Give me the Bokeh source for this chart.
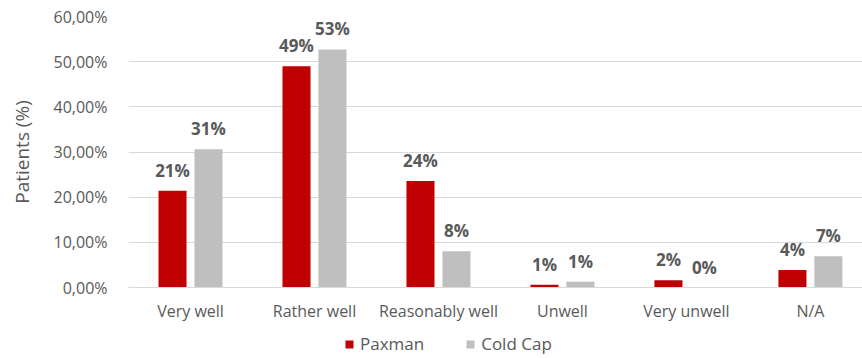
from bokeh.plotting import figure
from bokeh.layouts import column
from bokeh.models import (ColumnDataSource, FixedTicker, LabelSet, Legend, LegendItem)
from bokeh.core.properties import value
from bokeh.transform import dodge
from bokeh.embed import file_html
from bokeh.resources import INLINE

# Wellbeing rating per cap system, percent of patients
categories = ["Very well", "Rather well", "Reasonably well", "Unwell", "Very unwell", "N/A"]
paxman = [21.4, 49.0, 23.6, 0.6, 1.6, 3.9]
cold_cap = [30.6, 52.7, 8.0, 1.3, 0.0, 6.9]
series_names = ["Paxman", "Cold Cap"]
y_ticks = [0, 10, 20, 30, 40, 50, 60]
y_tick_labels = ["0,00%", "10,00%", "20,00%", "30,00%", "40,00%", "50,00%", "60,00%"]

RED = "#C00000"
GREY = "#BFBFBF"
TEXT = "#595959"
GRID = "#D9D9D9"
FONT = "Open Sans"

idx = list(range(len(categories)))
src = ColumnDataSource(dict(
    x=idx,
    paxman=paxman,
    cold=cold_cap,
    paxman_lbl=[f"{v:.0f}%" for v in paxman],
    cold_lbl=[f"{v:.0f}%" for v in cold_cap],
))

# main bar chart
p = figure(width=862, height=330, output_backend="svg", toolbar_location=None,
           x_range=(-0.5, 5.42), y_range=(0, 60),
           min_border_left=128, min_border_right=0, min_border_top=16,
           min_border_bottom=43)
p.outline_line_color = None
p.background_fill_color = "white"
p.border_fill_color = "white"

off = 0.145
w = 0.226
p.vbar(x=dodge("x", -off, range=p.x_range), top="paxman", width=w, source=src,
       fill_color=RED, line_color=None)
p.vbar(x=dodge("x", off, range=p.x_range), top="cold", width=w, source=src,
       fill_color=GREY, line_color=None)

for col, lbl, o in (("paxman", "paxman_lbl", -off), ("cold", "cold_lbl", off)):
    p.add_layout(LabelSet(x=dodge("x", o, range=p.x_range), y=col, text=lbl, source=src,
                          y_offset=14, text_align="center", text_baseline="alphabetic",
                          text_font=value(FONT), text_font_size="17px",
                          text_font_style="bold", text_color=TEXT))

# y axis
p.yaxis.ticker = FixedTicker(ticks=y_ticks)
p.yaxis.major_label_overrides = dict(zip(y_ticks, y_tick_labels))
p.yaxis.axis_line_color = None
p.yaxis.major_tick_line_color = None
p.yaxis.minor_tick_line_color = None
p.yaxis.major_label_standoff = 15
p.yaxis.major_label_text_font = FONT
p.yaxis.major_label_text_font_size = "16px"
p.yaxis.major_label_text_color = TEXT
p.yaxis.axis_label = "Patients (%)"
p.yaxis.axis_label_text_font = FONT
p.yaxis.axis_label_text_font_size = "19px"
p.yaxis.axis_label_text_font_style = "normal"
p.yaxis.axis_label_text_color = TEXT
p.yaxis.axis_label_standoff = 16

# x axis
p.xaxis.ticker = FixedTicker(ticks=idx)
p.xaxis.major_label_overrides = {i: c for i, c in zip(idx, categories)}
p.xaxis.axis_line_color = GRID
p.xaxis.major_tick_line_color = None
p.xaxis.minor_tick_line_color = None
p.xaxis.major_label_standoff = 6
p.xaxis.major_label_text_font = FONT
p.xaxis.major_label_text_font_size = "16px"
p.xaxis.major_label_text_color = TEXT

p.xgrid.grid_line_color = None
p.ygrid.ticker = FixedTicker(ticks=y_ticks)
p.ygrid.grid_line_color = GRID
p.ygrid.grid_line_width = 1

# legend strip underneath the chart; its bars are kept outside the visible range
lg = figure(width=862, height=28, output_backend="svg", toolbar_location=None,
            x_axis_type=None, y_axis_type=None, x_range=(100, 101), y_range=(100, 101),
            min_border_left=0, min_border_right=0, min_border_top=0, min_border_bottom=0)
lg.outline_line_color = None
lg.border_fill_color = "white"
lg.background_fill_color = "white"
k1 = lg.vbar(x="x", top="paxman", width=w, source=src, fill_color=RED, line_color=None)
k2 = lg.vbar(x="x", top="cold", width=w, source=src, fill_color=GREY, line_color=None)
legend = Legend(items=[LegendItem(label=series_names[0], renderers=[k1]),
                       LegendItem(label=series_names[1], renderers=[k2])],
                orientation="horizontal", location=(216, 3),
                glyph_width=10, glyph_height=10, label_text_font=FONT,
                label_text_font_size="17px", label_text_color=TEXT,
                spacing=41, padding=2, margin=0, border_line_color=None,
                background_fill_alpha=0, label_standoff=6)
lg.add_layout(legend)

layout = column(p, lg, spacing=0)
open("out.html", "w").write(file_html(layout, INLINE))
